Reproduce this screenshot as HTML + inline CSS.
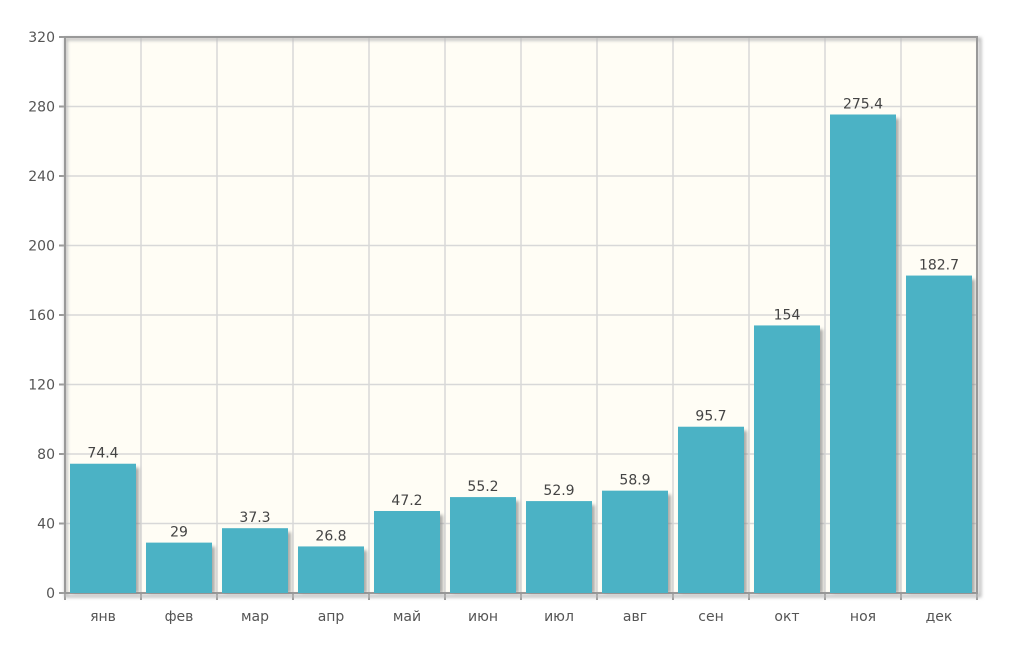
<!DOCTYPE html>
<html><head><meta charset="utf-8"><style>
body{margin:0;background:#fff;width:1025px;height:655px;overflow:hidden}
svg text{font-family:"DejaVu Sans","Liberation Sans",sans-serif}
</style></head><body>
<svg id="c" width="1025" height="655" xmlns="http://www.w3.org/2000/svg">
<defs><filter id="sh" x="-10%" y="-10%" width="130%" height="130%"><feGaussianBlur stdDeviation="1.5"/></filter></defs>
<rect x="65" y="37" width="912" height="556" fill="#fffdf5"/>
<g id="grid"></g>
<rect x="66" y="39" width="914" height="557" fill="none" stroke="#bbb" stroke-width="3" filter="url(#sh)"/>
<rect x="65" y="37" width="912" height="556" fill="none" stroke="#999" stroke-width="2"/>
<g id="bars"></g>
<g id="labels"></g>
</svg>
<script>
var L=65,R=977,T=37,B=593,n=12,cw=(R-L)/n,sc=(B-T)/320;
var d=[74.4,29,37.3,26.8,47.2,55.2,52.9,58.9,95.7,154,275.4,182.7];
var m=["янв","фев","мар","апр","май","июн","июл","авг","сен","окт","ноя","дек"];
var g="",b="",t="";
for(var v=0;v<=320;v+=40){var y=B-v*sc;
 if(v>0&&v<320)g+='<line x1="'+L+'" x2="'+R+'" y1="'+y+'" y2="'+y+'" stroke="#d8d8d8" stroke-width="1.5"/>';
 g+='<line x1="'+(L-6)+'" x2="'+L+'" y1="'+y+'" y2="'+y+'" stroke="#999" stroke-width="2"/>';
 t+='<text x="'+(L-10)+'" y="'+(y+5)+'" text-anchor="end" font-size="14" fill="#555">'+v+'</text>';}
for(var i=0;i<n;i++){var x=L+i*cw;
 if(i>0)g+='<line x1="'+x+'" x2="'+x+'" y1="'+T+'" y2="'+B+'" stroke="#d8d8d8" stroke-width="1.5"/>';
 g+='<line x1="'+x+'" x2="'+x+'" y1="'+B+'" y2="'+(B+7)+'" stroke="#999" stroke-width="2"/>';
 var h=d[i]*sc,bx=x+5,bw=cw-10,by=B-h;
 b+='<rect x="'+(bx+3)+'" y="'+(by+4)+'" width="'+bw+'" height="'+(h-4)+'" fill="#888" opacity="0.7" filter="url(#sh)"/>';
 b+='<rect x="'+bx+'" y="'+by+'" width="'+bw+'" height="'+h+'" fill="#4bb2c5"/>';
 t+='<text x="'+(x+cw/2)+'" y="'+(by-6)+'" text-anchor="middle" font-size="14" fill="#444">'+d[i]+'</text>';
 t+='<text x="'+(x+cw/2)+'" y="621" text-anchor="middle" font-size="14" fill="#555">'+m[i]+'</text>';}
g+='<line x1="'+R+'" x2="'+R+'" y1="'+B+'" y2="'+(B+7)+'" stroke="#999" stroke-width="2"/>';
document.getElementById("grid").innerHTML=g;
document.getElementById("bars").innerHTML=b;
document.getElementById("labels").innerHTML=t;
</script>
</body></html>
